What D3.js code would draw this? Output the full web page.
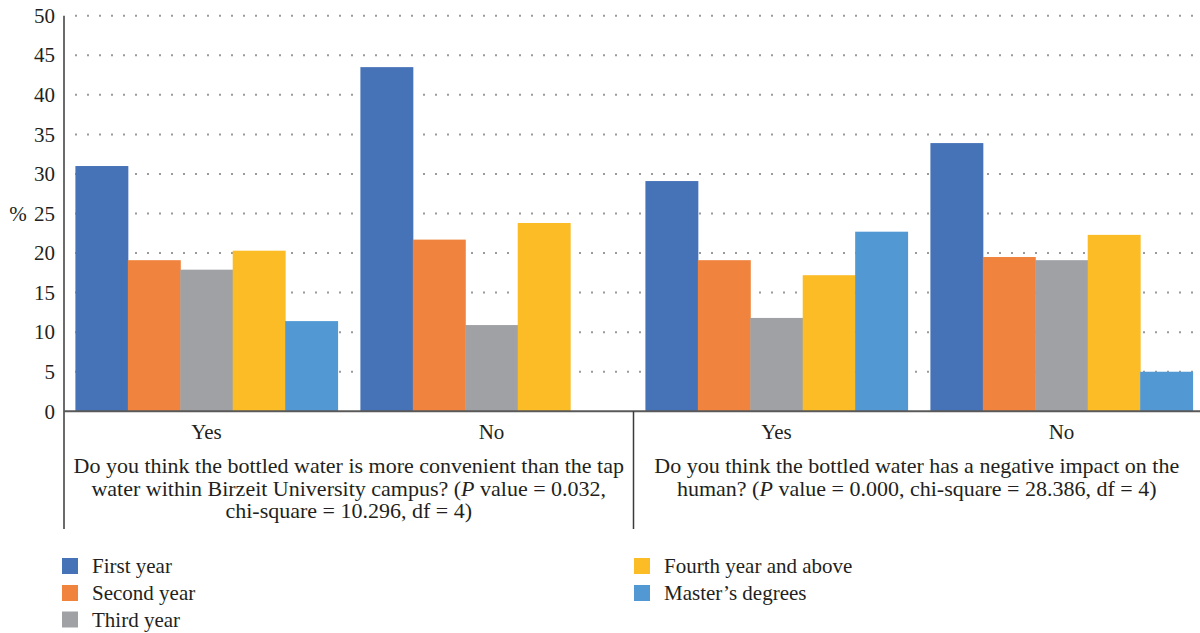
<!DOCTYPE html>
<html>
<head>
<meta charset="utf-8">
<script src="https://cdn.jsdelivr.net/npm/d3@7"></script>
<style>
  body { margin: 0; background: #fff; }
  text { font-family: "Liberation Serif", "DejaVu Serif", serif; fill: #231f20; }
</style>
</head>
<body>
<svg id="chart" width="1200" height="633"></svg>
<script>
// answer categories (two per question)
const categories = ["Yes", "No", "Yes", "No"];
const series = ["First year", "Second year", "Third year", "Fourth year and above", "Master\u2019s degrees"];
const colors = ["#4672b8", "#f0843e", "#a0a1a4", "#fcbc26", "#5299d4"];

// % values per series, in category order
const firstYear  = [31.0, 43.5, 29.1, 33.9];
const secondYear = [19.1, 21.7, 19.1, 19.5];
const thirdYear  = [17.9, 10.9, 11.8, 19.1];
const fourthYear = [20.3, 23.8, 17.2, 22.3];
const masters    = [11.4, 0,    22.7, 5.0];
const values = [firstYear, secondYear, thirdYear, fourthYear, masters];

const yTicks = d3.range(0, 51, 5);

const questions = [
  [["Do you think the bottled water is more convenient than the tap"],
   ["water within Birzeit University campus? (", "P", " value = 0.032,"],
   ["chi-square = 10.296, df = 4)"]],
  [["Do you think the bottled water has a negative impact on the"],
   ["human? (", "P", " value = 0.000, chi-square = 28.386, df = 4)"]]
];

const svg = d3.select("#chart");
const plotLeft = 64, plotRight = 1204, plotTop = 15.7, base = 411.3;
const fs = 21;

const x0 = d3.scaleBand().domain(d3.range(categories.length)).range([plotLeft, plotRight]).paddingInner(0.08).paddingOuter(0.04);
const x1 = d3.scaleBand().domain(d3.range(series.length)).range([0, x0.bandwidth()]);
const y = d3.scaleLinear().domain([0, 50]).range([base, plotTop]);

// dotted grid
const grid = svg.append("g");
yTicks.filter(t => t > 0).forEach(t => {
  grid.append("line")
    .attr("x1", 75).attr("x2", 1195)
    .attr("y1", y(t)).attr("y2", y(t))
    .attr("stroke", "#9a9a9a").attr("stroke-width", 2)
    .attr("stroke-dasharray", "2,10");
});

// bars
const groups = svg.append("g").selectAll("g")
  .data(categories)
  .join("g")
  .attr("transform", (d, i) => `translate(${x0(i)},0)`);

groups.selectAll("rect")
  .data((d, i) => values.map((s, k) => ({k: k, v: s[i]})))
  .join("rect")
  .attr("x", d => x1(d.k))
  .attr("width", x1.bandwidth() + 0.5)
  .attr("y", d => y(d.v))
  .attr("height", d => base - y(d.v))
  .attr("fill", d => colors[d.k]);

// y axis
const yAxis = svg.append("g")
  .attr("transform", `translate(${plotLeft},0)`)
  .call(d3.axisLeft(y).tickValues(yTicks).tickSize(0).tickPadding(9));
yAxis.select(".domain").remove();
yAxis.selectAll("text").attr("font-size", fs).attr("fill", "#231f20")
  .attr("font-family", "Liberation Serif");

svg.append("line").attr("x1", plotLeft).attr("x2", plotLeft).attr("y1", plotTop).attr("y2", 529)
  .attr("stroke", "#3a3a3a").attr("stroke-width", 1.5);
svg.append("line").attr("x1", plotLeft).attr("x2", 1200).attr("y1", base).attr("y2", base)
  .attr("stroke", "#595959").attr("stroke-width", 2);
svg.append("line").attr("x1", 633.5).attr("x2", 633.5).attr("y1", base).attr("y2", 529)
  .attr("stroke", "#3a3a3a").attr("stroke-width", 1.5);

svg.append("text").attr("x", 18).attr("y", y(25) + 7).attr("text-anchor", "middle")
  .attr("font-size", fs).text("%");

// category labels
svg.append("g").selectAll("text")
  .data(categories)
  .join("text")
  .attr("x", (d, i) => x0(i) + x0.bandwidth() / 2)
  .attr("y", 439)
  .attr("text-anchor", "middle")
  .attr("font-size", fs)
  .text(d => d);

// question labels
questions.forEach((lines, q) => {
  const cx = q === 0 ? (plotLeft + 633.5) / 2 : (633.5 + 1200) / 2;
  lines.forEach((parts, li) => {
    const t = svg.append("text")
      .attr("x", cx)
      .attr("y", 473 + li * 22.7)
      .attr("text-anchor", "middle")
      .attr("font-size", 22);
    parts.forEach((p, pi) => {
      t.append("tspan").attr("font-style", pi === 1 ? "italic" : null).text(p);
    });
  });
});

// legend
const legendPos = [[62, 566], [62, 593], [62, 619.5], [634, 566], [634, 593]];
const legend = svg.append("g").selectAll("g")
  .data(series)
  .join("g")
  .attr("transform", (d, i) => `translate(${legendPos[i][0]},${legendPos[i][1]})`);
legend.append("rect").attr("x", 0).attr("y", -8).attr("width", 16).attr("height", 16)
  .attr("fill", (d, i) => colors[i]);
legend.append("text").attr("x", 30).attr("y", 7).attr("font-size", fs).text(d => d);
</script>
</body>
</html>
